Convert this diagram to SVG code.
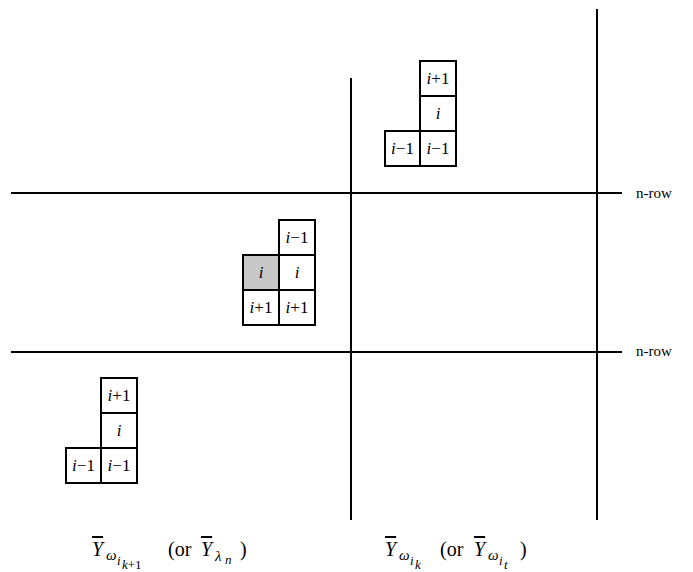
<svg xmlns="http://www.w3.org/2000/svg" width="693" height="572" viewBox="0 0 693 572">
<style>
.ln{stroke:#000;stroke-width:2;fill:none}
.bx{stroke:#000;stroke-width:2;fill:#fff}
.gr{fill:#c8c8c8}
text{font-family:'Liberation Serif','DejaVu Serif','Times New Roman',serif}
.t{font-size:17px;text-anchor:middle}
.it{font-style:italic}
.lb{font-size:20px}
.sb{font-size:15px}
.ss{font-size:13px}
.nr{font-size:15px}
</style>
<g id="connectors">
<line class="ln" x1="11" y1="193" x2="622" y2="193"/>
<line class="ln" x1="11" y1="352" x2="622" y2="352"/>
<line class="ln" x1="351" y1="78" x2="351" y2="520"/>
<line class="ln" x1="597" y1="9" x2="597" y2="520"/>
</g>
<g id="nrow1"><text class="nr" x="636" y="198">n-row</text></g>
<g id="nrow2"><text class="nr" x="636" y="356">n-row</text></g>
<g id="tableau-top">
<rect class="bx" x="420" y="61" width="36" height="35"/>
<rect class="bx" x="420" y="96" width="36" height="35"/>
<rect class="bx" x="385" y="131" width="35" height="35"/>
<rect class="bx" x="420" y="131" width="36" height="35"/>
<text class="t" x="438" y="84"><tspan class="it">i</tspan>+1</text>
<text class="t" x="438" y="119"><tspan class="it">i</tspan></text>
<text class="t" x="402.5" y="154"><tspan class="it">i</tspan>−1</text>
<text class="t" x="438" y="154"><tspan class="it">i</tspan>−1</text>
</g>
<g id="tableau-mid">
<rect class="bx" x="279" y="220" width="36" height="35"/>
<rect class="bx gr" x="243" y="255" width="36" height="35"/>
<rect class="bx" x="279" y="255" width="36" height="35"/>
<rect class="bx" x="243" y="290" width="36" height="35"/>
<rect class="bx" x="279" y="290" width="36" height="35"/>
<text class="t" x="297" y="243"><tspan class="it">i</tspan>−1</text>
<text class="t" x="261" y="278"><tspan class="it">i</tspan></text>
<text class="t" x="297" y="278"><tspan class="it">i</tspan></text>
<text class="t" x="261" y="313"><tspan class="it">i</tspan>+1</text>
<text class="t" x="297" y="313"><tspan class="it">i</tspan>+1</text>
</g>
<g id="tableau-bottom">
<rect class="bx" x="101" y="378" width="36" height="35"/>
<rect class="bx" x="101" y="413" width="36" height="35"/>
<rect class="bx" x="66" y="448" width="35" height="35"/>
<rect class="bx" x="101" y="448" width="36" height="35"/>
<text class="t" x="119" y="401"><tspan class="it">i</tspan>+1</text>
<text class="t" x="119" y="436"><tspan class="it">i</tspan></text>
<text class="t" x="83.5" y="471"><tspan class="it">i</tspan>−1</text>
<text class="t" x="119" y="471"><tspan class="it">i</tspan>−1</text>
</g>
<g id="label-left">
<text class="lb"><tspan x="92" y="556" class="it" text-decoration="overline">Y</tspan><tspan x="106" y="560" class="it sb">ω</tspan><tspan x="117" y="565" class="it ss">i</tspan><tspan x="122" y="569" class="it ss">k</tspan><tspan y="569" class="ss">+1</tspan><tspan x="168" y="556">(or </tspan><tspan x="201" y="556" class="it" text-decoration="overline">Y</tspan><tspan x="215" y="561" class="it sb">λ</tspan><tspan x="225" y="564" class="it ss">n</tspan><tspan x="240" y="556">)</tspan></text>
</g>
<g id="label-right">
<text class="lb"><tspan x="385" y="556" class="it" text-decoration="overline">Y</tspan><tspan x="399" y="560" class="it sb">ω</tspan><tspan x="410" y="565" class="it ss">i</tspan><tspan x="415" y="569" class="it ss">k</tspan><tspan x="440" y="556">(or </tspan><tspan x="474" y="556" class="it" text-decoration="overline">Y</tspan><tspan x="488" y="560" class="it sb">ω</tspan><tspan x="499" y="565" class="it ss">i</tspan><tspan x="504" y="569" class="it ss">t</tspan><tspan x="520" y="556">)</tspan></text>
</g>
</svg>
